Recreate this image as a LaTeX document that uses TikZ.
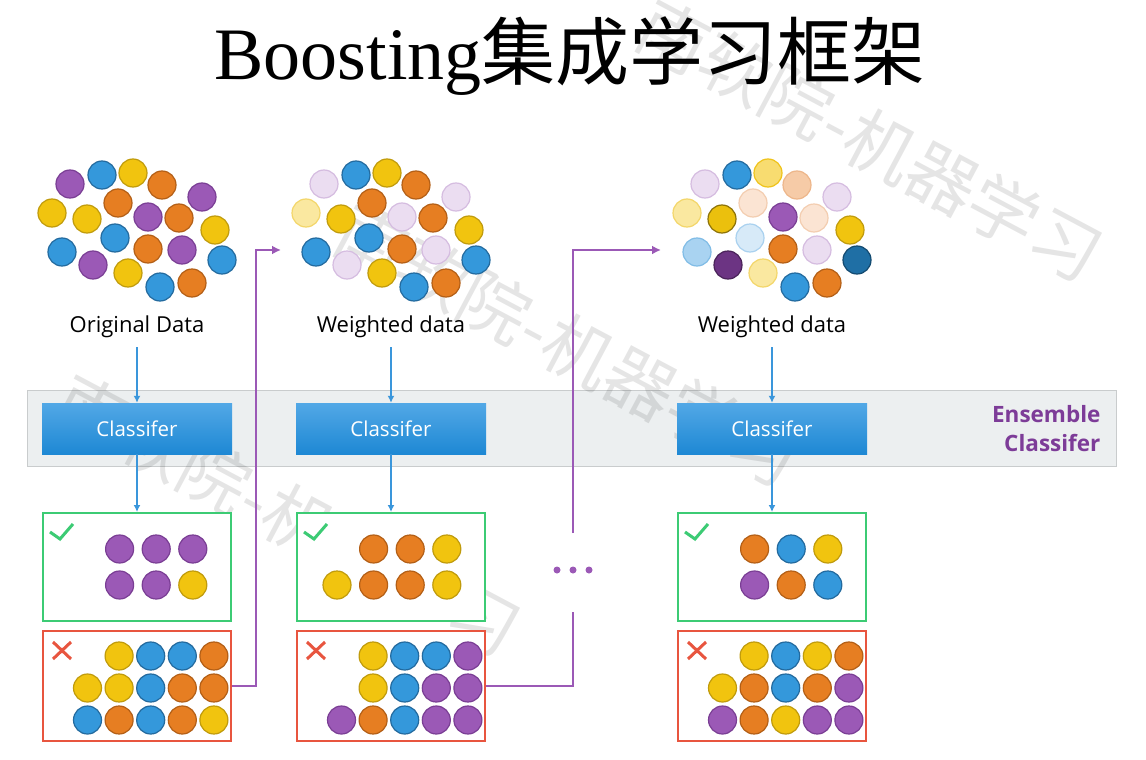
\documentclass[tikz,border=0pt]{standalone}
\usepackage{fontspec}
\setmainfont{Liberation Serif}
\newfontfamily\cjk{Noto Sans CJK SC}
\newfontfamily\plex{Open Sans}
\usetikzlibrary{arrows.meta,positioning}
\usepackage{xcolor}

\definecolor{clfTop}{HTML}{52A8E6}
\definecolor{clfBot}{HTML}{1E88D4}
\definecolor{bandGray}{HTML}{ECEFF0}
\definecolor{bandLine}{HTML}{C9CCCD}
\definecolor{flowBlue}{HTML}{3A96DB}
\definecolor{okGreen}{HTML}{3CCB74}
\definecolor{badRed}{HTML}{E8553F}
\definecolor{backPurple}{HTML}{9B59B6}
\definecolor{ensPurple}{HTML}{7D3C98}
% ball colours: fill c.., border lc..
\definecolor{cP}{HTML}{9B59B6}  \definecolor{lcP}{HTML}{7A3E94}
\definecolor{cY}{HTML}{F1C40F}  \definecolor{lcY}{HTML}{C09B0C}
\definecolor{cB}{HTML}{3498DB}  \definecolor{lcB}{HTML}{236A9E}
\definecolor{cO}{HTML}{E67E22}  \definecolor{lcO}{HTML}{B35F16}
\definecolor{cPl}{HTML}{EBDDF1} \definecolor{lcPl}{HTML}{D5BCE0}
\definecolor{cYl}{HTML}{FAE8A0} \definecolor{lcYl}{HTML}{F3D66A}
\definecolor{cYm}{HTML}{F8DC70} \definecolor{lcYm}{HTML}{EFC31A}
\definecolor{cOl}{HTML}{F6CBA7} \definecolor{lcOl}{HTML}{EDB68A}
\definecolor{cOv}{HTML}{FBE4D3} \definecolor{lcOv}{HTML}{F3CDB0}
\definecolor{cYd}{HTML}{EBC00D} \definecolor{lcYd}{HTML}{8C7208}
\definecolor{cBv}{HTML}{D7EAF8} \definecolor{lcBv}{HTML}{A9D1EF}
\definecolor{cBl}{HTML}{A9D3F1} \definecolor{lcBl}{HTML}{80BCE6}
\definecolor{cPd}{HTML}{6C3483} \definecolor{lcPd}{HTML}{4A2359}
\definecolor{cBd}{HTML}{1F6FA5} \definecolor{lcBd}{HTML}{134A70}

\newcommand{\ball}[3]{\filldraw[fill=c#3, draw=lc#3, line width=1.2pt] ({#1},{#2}) circle[radius=14pt];}
\newcommand{\okrow}[3]{\foreach \k/\bc in {#3} {\ball{#1+41+36.6*\k}{#2}{\bc}}}
\newcommand{\badrow}[3]{\foreach \k/\bc in {#3} {\ball{#1+45.5+31.6*\k}{#2}{\bc}}}

\begin{document}
\begin{tikzpicture}[
  x=1pt, y=-1pt,
  font=\plex,
  band/.style={draw=bandLine, fill=bandGray, line width=0.8pt, minimum width=1089pt, minimum height=76pt, inner sep=0pt},
  clf/.style={top color=clfTop, bottom color=clfBot, text=white, minimum width=190pt, minimum height=51pt, inner sep=0pt, font=\plex\fontsize{20.5}{24}\selectfont},
  okbox/.style={draw=okGreen, line width=2pt, fill=white, minimum width=188pt, minimum height=108pt, inner sep=0pt},
  badbox/.style={draw=badRed, line width=2pt, fill=white, minimum width=188pt, minimum height=110pt, inner sep=0pt},
  datalabel/.style={anchor=base, inner xsep=2pt, inner ysep=10pt, font=\plex\fontsize{22}{26}\selectfont},
  flow/.style={draw=flowBlue, line width=1.8pt, -{Latex[length=7pt,width=7pt]}},
  backflow/.style={draw=backPurple, line width=2.5pt, -{Latex[length=9pt,width=9pt]}},
  tick/.style={draw=okGreen, line width=3pt},
  cross/.style={draw=badRed, line width=3pt},
  mark text/.style={rotate=-28, text=black, text opacity=0.1, font=\cjk\fontsize{70}{70}\selectfont}
]
\useasboundingbox (0,0) rectangle (1146,760);

\node[band] (band) at (571.5,428) {};

% watermark
\node[mark text] (wm1) at (870,140) {南软院-机器学习};
\node[mark text] (wm2) at (568,345) {南软院-机器学习};
\node[mark text] (wm3) at (288,515) {南软院-机器学习};

\node[anchor=base, font=\rmfamily\fontsize{74}{80}\selectfont] (title) at (570,80) {Boosting{\cjk 集成学习框架}};

% data clouds
\foreach \dx/\yy/\ca/\cb/\cc in {-67/184/P/Pl/Pl, -35/175/B/B/B, -4/173/Y/Y/Ym, 25/185/O/O/Ol,
    65/197/P/Pl/Pl, -85/213/Y/Yl/Yl, -50/219/Y/Y/Yd, -19/203/O/O/Ov, 11/217/P/Pl/P,
    42/218/O/O/Ov, 78/230/Y/Y/Y, -22/238/B/B/Bv, 11/249/O/O/O, 45/250/P/Pl/Pl,
    -75/252/B/B/Bl, -44/265/P/Pl/Pd, -9/273/Y/Y/Yl, 85/260/B/B/Bd, 23/287/B/B/B, 55/283/O/O/O}{
  \ball{137+\dx}{\yy}{\ca}
  \ball{391+\dx}{\yy}{\cb}
  \ball{772+\dx}{\yy}{\cc}
}
\node[datalabel] (lab1) at (137,332) {Original Data};
\node[datalabel] (lab2) at (391,332) {Weighted data};
\node[datalabel] (lab3) at (772,332) {Weighted data};

% classifier row
\node[clf] (clf1) at (137,428.5) {Classifer};
\node[clf] (clf2) at (391,428.5) {Classifer};
\node[clf] (clf3) at (772,428.5) {Classifer};
\node[anchor=east, align=right, text=ensPurple, font=\plex\bfseries\fontsize{22.5}{29}\selectfont] (ens) at (1104,429) {Ensemble\\Classifer};

% results
\node[okbox] (ok1) at (137,567) {};
\node[okbox] (ok2) at (391,567) {};
\node[okbox] (ok3) at (772,567) {};
\node[badbox, below=8pt of ok1] (bad1) {};
\node[badbox, below=8pt of ok2] (bad2) {};
\node[badbox, below=8pt of ok3] (bad3) {};

\foreach \n in {1,2,3}{
  \draw[flow] (lab\n) -- (clf\n);
  \draw[flow] (clf\n) -- (ok\n);
  \draw[tick, shift={(ok\n.north west)}] (8,20) -- (18,27) -- (31,12);
  \draw[cross, shift={(bad\n.north west)}] (11,12) -- (29,29) (29,12) -- (11,29);
}

\okrow{42}{549}{1/P,2/P,3/P}
\okrow{42}{585}{1/P,2/P,3/Y}
\badrow{42}{656}{1/Y,2/B,3/B,4/O}
\badrow{42}{688}{0/Y,1/Y,2/B,3/O,4/O}
\badrow{42}{720}{0/B,1/O,2/B,3/O,4/Y}

\okrow{296}{549}{1/O,2/O,3/Y}
\okrow{296}{585}{0/Y,1/O,2/O,3/Y}
\badrow{296}{656}{1/Y,2/B,3/B,4/P}
\badrow{296}{688}{1/Y,2/B,3/P,4/P}
\badrow{296}{720}{0/P,1/O,2/B,3/P,4/P}

\okrow{677}{549}{1/O,2/B,3/Y}
\okrow{677}{585}{1/P,2/O,3/B}
\badrow{677}{656}{1/Y,2/B,3/Y,4/O}
\badrow{677}{688}{0/Y,1/O,2/B,3/O,4/P}
\badrow{677}{720}{0/P,1/O,2/Y,3/P,4/P}

% misclassified samples feed the next round
\coordinate (in2) at (281,250);
\coordinate (in3) at (661,250);
\coordinate (gapLow) at (573,612);
\coordinate (gapHigh) at (573,533);
\coordinate (more) at (573,570);
\draw[backflow] (bad1.east) -- ++(24,0) |- (in2);
\draw[backflow, -] (bad2.east) -| (gapLow);
\draw[backflow] (gapHigh) |- (in3);
\foreach \dx in {-16,0,16}
  \fill[backPurple] ([xshift=\dx pt]more) circle[radius=3.5pt];
\end{tikzpicture}
\end{document}
